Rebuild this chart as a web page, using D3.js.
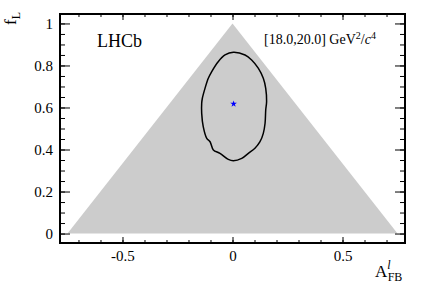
<!DOCTYPE html>
<html>
<head>
<meta charset="utf-8">
<script src="https://cdn.jsdelivr.net/npm/d3@7"></script>
<style>
  body { margin: 0; background: #fff; }
  svg text { font-family: "Liberation Serif", "Times New Roman", serif; fill: #000; }
</style>
</head>
<body>
<div class="chart"></div>
<script>
// allowed region (triangle) in the A_FB - F_L plane
var triA = [-0.75, 0.75, 0];
var triF = [0, 0, 1];

// 68% contour
var contourA = [0.004, 0.057, 0.087, 0.117, 0.140, 0.151, 0.155, 0.151, 0.148, 0.140,
  0.125, 0.102, 0.072, 0.042, 0.004, -0.019, -0.057, -0.087, -0.102, -0.117,
  -0.133, -0.140, -0.140, -0.137, -0.125, -0.110, -0.095, -0.065, -0.034];
var contourF = [0.863, 0.850, 0.826, 0.787, 0.739, 0.691, 0.628, 0.588, 0.525, 0.477,
  0.437, 0.406, 0.382, 0.358, 0.347, 0.353, 0.382, 0.398, 0.437, 0.453,
  0.509, 0.572, 0.620, 0.644, 0.691, 0.739, 0.770, 0.818, 0.850];

// best fit point
var bestA = [0.005];
var bestF = [0.617];

var xTicks = [-0.5, 0, 0.5];
var yTicks = [0, 0.2, 0.4, 0.6, 0.8, 1];

var width = 427, height = 290;
var mLeft = 60, mRight = 405, mTop = 14, mBottom = 243;

var x = d3.scaleLinear().domain([-0.784, 0.784]).range([mLeft, mRight]);
var y = d3.scaleLinear().domain([-0.045, 1.045]).range([mBottom, mTop]);

var svg = d3.select('.chart').append('svg')
  .attr('width', width)
  .attr('height', height);

// triangle
svg.append('polygon')
  .attr('points', triA.map(function(d, i) {
    return x(d) + ',' + y(triF[i]);
  }).join(' '))
  .attr('fill', '#cccccc');

// contour
var line = d3.line()
  .x(function(d) { return x(d[0]); })
  .y(function(d) { return y(d[1]); })
  .curve(d3.curveCatmullRomClosed);

svg.append('path')
  .datum(contourA.map(function(d, i) { return [d, contourF[i]]; }))
  .attr('d', line)
  .attr('fill', 'none')
  .attr('stroke', '#000')
  .attr('stroke-width', 1.5);

// best fit star
svg.selectAll('.best')
  .data(bestA)
  .enter().append('path')
    .attr('class', 'best')
    .attr('transform', function(d, i) {
      return 'translate(' + x(d) + ',' + y(bestF[i]) + ')';
    })
    .attr('d', d3.symbol().type(d3.symbolStar).size(14))
    .attr('fill', '#0000ff');

// axes: majors with labels, minors without
var xMinor = d3.range(-7, 8).map(function(d) { return d / 10; });
var yMinor = d3.range(0, 21).map(function(d) { return d / 20; });

function addAxis(axis, tr) {
  var g = svg.append('g').attr('transform', tr).call(axis);
  g.select('.domain').remove();
  g.selectAll('.tick line').attr('stroke', '#000').attr('stroke-width', 1);
  g.selectAll('text').attr('font-size', 15).attr('font-family', '"Liberation Serif", serif');
  return g;
}

var plain = function(d) { return String(d); };

addAxis(d3.axisBottom(x).tickValues(xTicks).tickSize(-6).tickPadding(7).tickFormat(plain),
  'translate(0,' + mBottom + ')');
addAxis(d3.axisBottom(x).tickValues(xMinor).tickSize(-3).tickFormat(''), 'translate(0,' + mBottom + ')');
addAxis(d3.axisTop(x).tickValues(xTicks).tickSize(-6).tickFormat(''), 'translate(0,' + mTop + ')');
addAxis(d3.axisTop(x).tickValues(xMinor).tickSize(-3).tickFormat(''), 'translate(0,' + mTop + ')');

addAxis(d3.axisLeft(y).tickValues(yTicks).tickSize(-10).tickPadding(7).tickFormat(plain),
  'translate(' + mLeft + ',0)');
addAxis(d3.axisLeft(y).tickValues(yMinor).tickSize(-5).tickFormat(''), 'translate(' + mLeft + ',0)');
addAxis(d3.axisRight(y).tickValues(yTicks).tickSize(-10).tickFormat(''), 'translate(' + mRight + ',0)');
addAxis(d3.axisRight(y).tickValues(yMinor).tickSize(-5).tickFormat(''), 'translate(' + mRight + ',0)');

// frame
svg.append('rect')
  .attr('x', mLeft).attr('y', mTop)
  .attr('width', mRight - mLeft).attr('height', mBottom - mTop)
  .attr('fill', 'none')
  .attr('stroke', '#000')
  .attr('stroke-width', 2);

// labels
svg.append('text')
  .attr('x', 97).attr('y', 47)
  .attr('font-size', 18)
  .text('LHCb');

var bin = svg.append('text')
  .attr('x', 264).attr('y', 44)
  .attr('font-size', 14);
bin.append('tspan').text('[18.0,20.0] GeV');
bin.append('tspan').attr('font-size', 10).attr('dy', -5).text('2');
bin.append('tspan').attr('dy', 5).text('/');
bin.append('tspan').attr('font-style', 'italic').text('c');
bin.append('tspan').attr('font-size', 10).attr('dy', -5).text('4');

var xt = svg.append('text')
  .attr('x', 375).attr('y', 277)
  .attr('font-size', 17);
xt.append('tspan').text('A');
xt.append('tspan').attr('font-size', 12).attr('dy', -8).attr('font-style', 'italic').text('l');
xt.append('tspan').attr('font-size', 12).attr('dx', -3).attr('dy', 12).text('FB');

var yt = svg.append('text')
  .attr('transform', 'translate(16,12) rotate(-90)')
  .attr('text-anchor', 'end')
  .attr('font-size', 17);
yt.append('tspan').text('f');
yt.append('tspan').attr('font-size', 12).attr('dy', 4).text('L');
</script>
</body>
</html>
